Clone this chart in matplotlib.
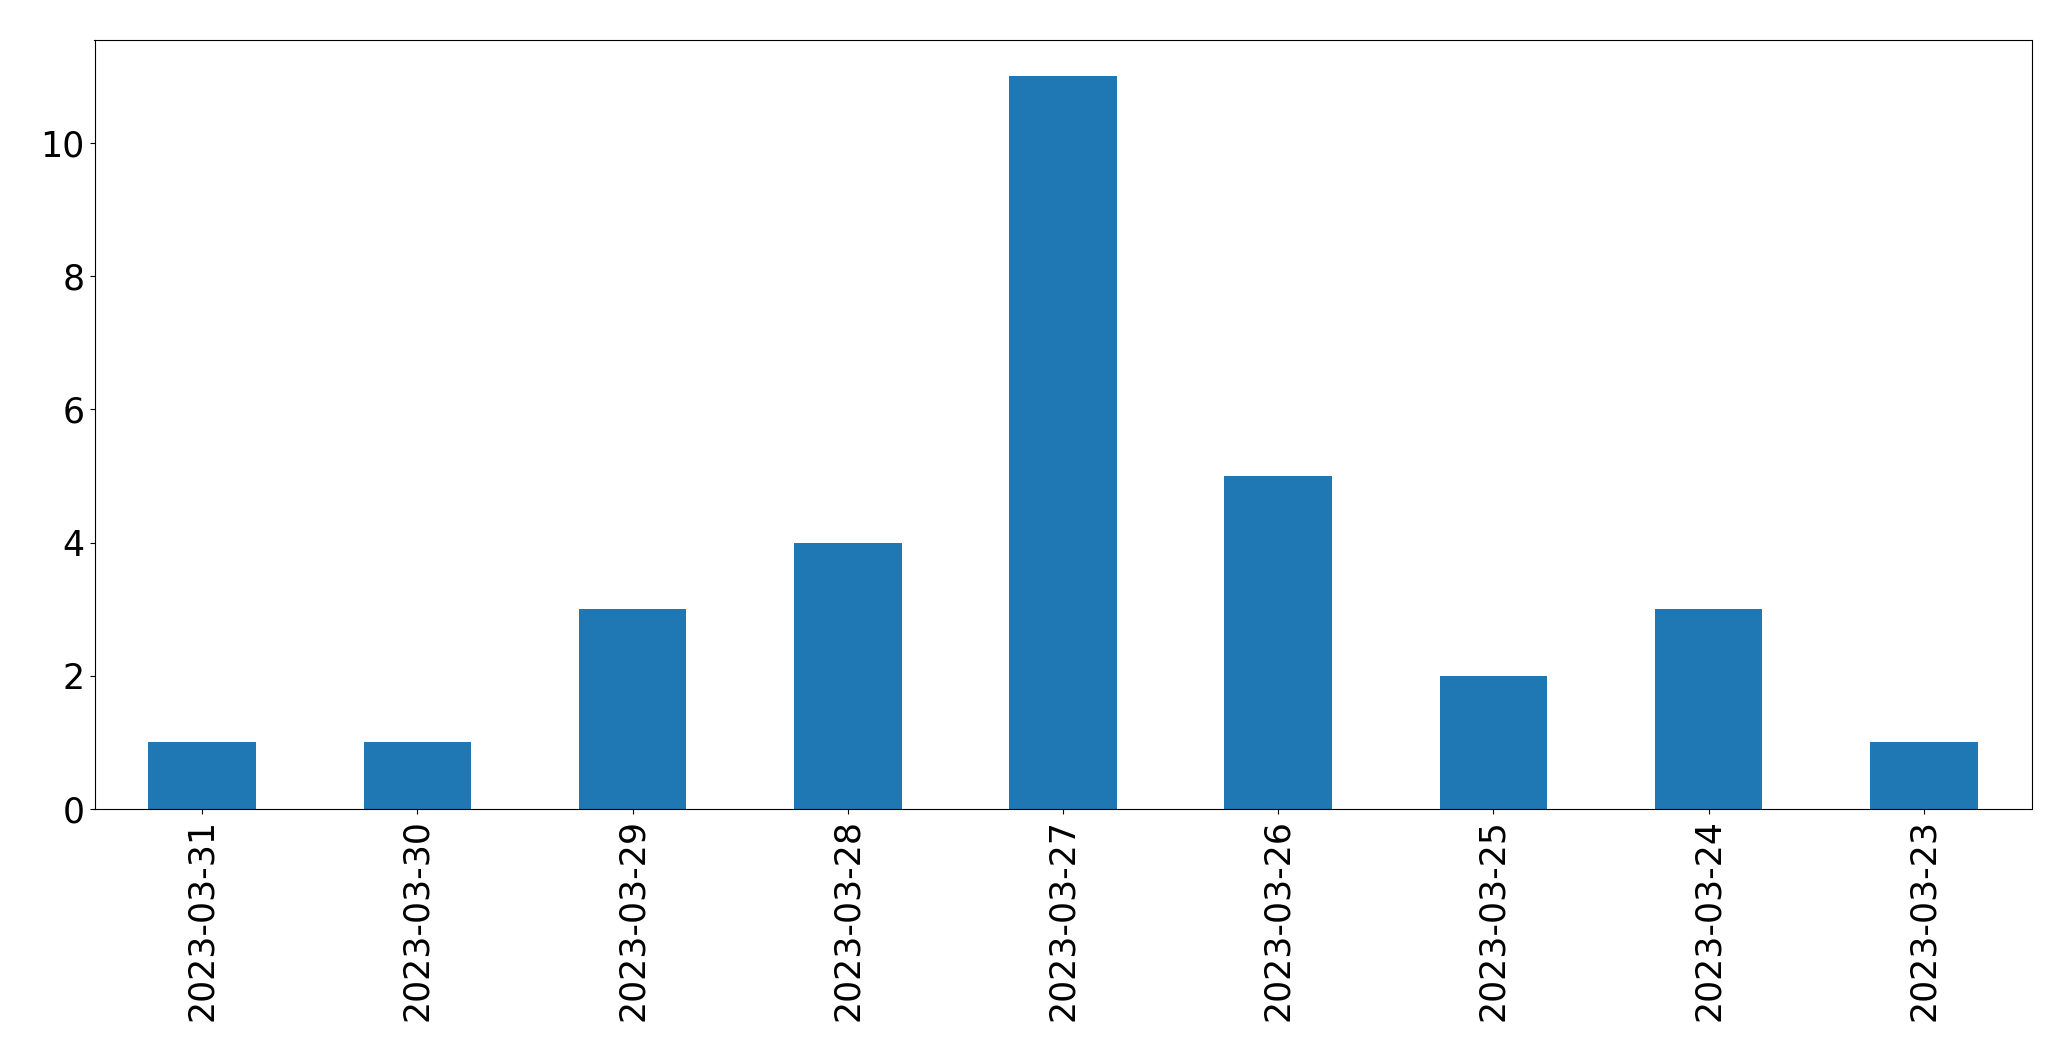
import matplotlib
matplotlib.use("Agg")
import matplotlib.pyplot as plt
import numpy as np

dates = ["2023-03-31", "2023-03-30", "2023-03-29", "2023-03-28", "2023-03-27",
         "2023-03-26", "2023-03-25", "2023-03-24", "2023-03-23"]
counts = [1, 1, 3, 4, 11, 5, 2, 3, 1]

fig = plt.figure(figsize=(20.71, 10.61), dpi=100)
ax = fig.add_axes([94.5 / 2071, 1 - 809 / 1061, (2031.5 - 94.5) / 2071, (809 - 39.5) / 1061])

x = np.arange(len(dates))
ax.bar(x, counts, width=0.5, color="#1f77b4")
ax.set_xlim(-0.5, len(dates) - 0.5)
ax.set_xticks(x)
ax.set_xticklabels(dates, rotation=90)
ax.tick_params(axis="both", labelsize=25)

fig.savefig("out.png", dpi=100)
